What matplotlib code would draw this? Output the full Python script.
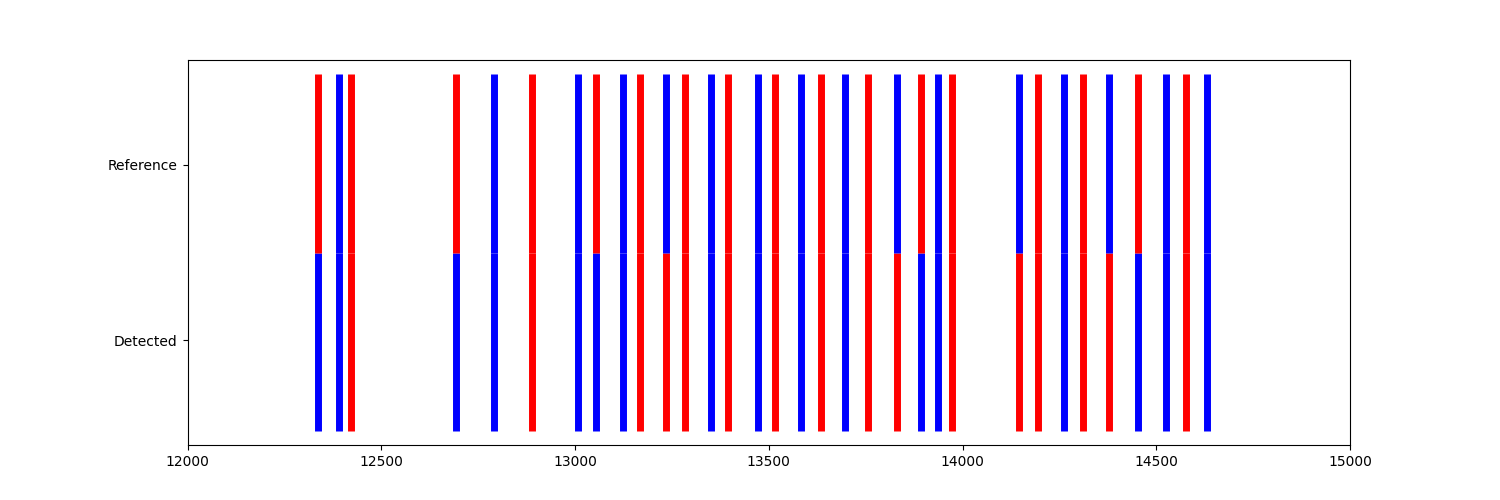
import matplotlib
matplotlib.use("Agg")
import matplotlib.pyplot as plt

ref_red = [12338, 12423, 12694, 12890, 13055, 13169, 13283, 13396, 13517, 13634,
           13755, 13894, 13972, 14196, 14310, 14452, 14578]
ref_blue = [12390, 12792, 13009, 13123, 13236, 13352, 13471, 13582, 13698, 13830,
            13938, 14145, 14263, 14379, 14526, 14632]
det_red = [12423, 12890, 13169, 13236, 13283, 13396, 13517, 13634, 13755, 13830,
           13972, 14145, 14196, 14310, 14379, 14578]
det_blue = [12338, 12390, 12694, 12792, 13009, 13055, 13123, 13352, 13471, 13582,
            13698, 13894, 13938, 14263, 14452, 14526, 14632]
row_labels = ["Detected", "Reference"]

fig, ax = plt.subplots(figsize=(15, 5), dpi=100)
colls = ax.eventplot([det_red, det_blue, ref_red, ref_blue],
                     lineoffsets=[-0.01, -0.01, 1.01, 1.01],
                     linelengths=1.02,
                     colors=["red", "blue", "red", "blue"],
                     linewidths=5)
ax.set_yticks([0, 1])
ax.set_yticklabels(row_labels)
ax.set_xlim(12000, 15000)
ax.set_ylim(-0.6, 1.6)
fig.savefig("out.png", dpi=100)
